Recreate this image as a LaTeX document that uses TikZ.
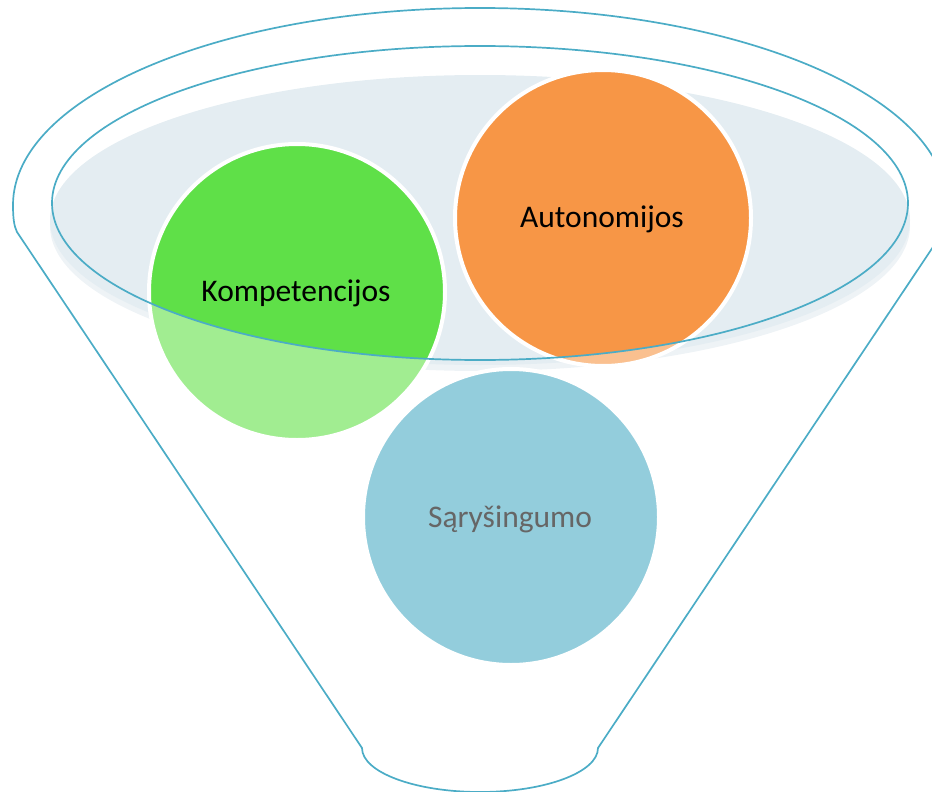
\documentclass[tikz,border=0pt]{standalone}
\usepackage{fontspec}
\setmainfont{Carlito}
\definecolor{rim}{HTML}{4BACC6}
\definecolor{bowl}{HTML}{E4EDF2}
\definecolor{bowllight}{HTML}{EEF3F6}
\definecolor{greenc}{HTML}{5FE048}
\definecolor{greenl}{HTML}{A1ED91}
\definecolor{orangec}{HTML}{F79646}
\definecolor{orangel}{HTML}{FAC08F}
\definecolor{bluec}{HTML}{93CDDC}
\definecolor{txtgray}{HTML}{666666}
\tikzset{
  rimline/.style={draw=rim, line width=1.7pt},
  bubble/.style={draw=white, line width=4pt},
  bubbletext/.style={anchor=base, inner sep=0pt, font=\fontsize{31.5}{37}\selectfont}
}
\begin{document}
\begin{tikzpicture}[x=1pt, y=-1pt]
\useasboundingbox (0,0) rectangle (932,792);
% bowl fill
\fill[bowllight] (480,226) ellipse[x radius=430, y radius=145];
\fill[bowl] (480,220) ellipse[x radius=430, y radius=145];
% funnel outline
\draw[rimline, line join=round] (13,205) arc[start angle=180, end angle=360, x radius=467, y radius=197]
  .. controls (947,218) and (946,226) .. (943,232)
  -- (598,748)
  arc[start angle=0, end angle=180, x radius=118, y radius=44]
  -- (17,232)
  .. controls (14,226) and (13,218) .. (13,205) -- cycle;
% circles (light parts)
\fill[bluec] (511,517) circle[radius=148];
\draw[bubble] (511,517) circle[radius=148];
\fill[greenl] (297,292) circle[radius=148];
\fill[orangel] (603,218) circle[radius=148];
% saturated parts inside rim ellipse
\begin{scope}
  \clip (480,203) ellipse[x radius=428, y radius=157];
  \fill[greenc] (297,292) circle[radius=148];
  \fill[orangec] (603,218) circle[radius=148];
\end{scope}
\draw[bubble] (297,292) circle[radius=148];
\draw[bubble] (603,218) circle[radius=148];
% inner rim ellipse
\draw[rimline] (480,203) ellipse[x radius=428, y radius=157];
% labels
\node[bubbletext] (komp) at (296,301) {Kompetencijos};
\node[bubbletext] (auto) at (602,227) {Autonomijos};
\node[bubbletext, text=txtgray] (sary) at (510,527) {Sąryšingumo};
\end{tikzpicture}
\end{document}
